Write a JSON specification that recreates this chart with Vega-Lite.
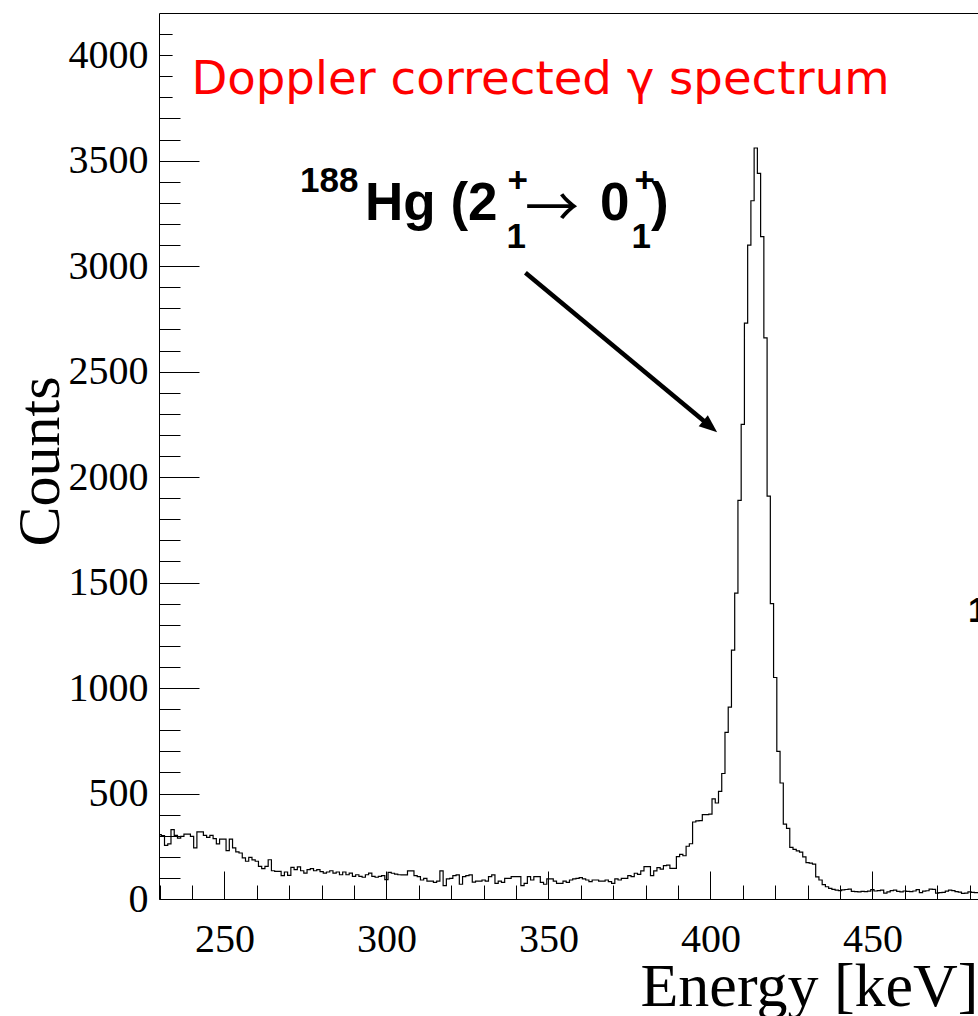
{
  "$schema": "https://vega.github.io/schema/vega-lite/v6.json",
  "width": 819,
  "height": 886,
  "autosize": {"type": "none"},
  "padding": {"left": 159, "top": 13, "right": 0, "bottom": 117},
  "background": "white",
  "config": {
    "view": {"stroke": null},
    "axis": {
      "grid": false,
      "domainColor": "black",
      "domainWidth": 1,
      "tickColor": "black",
      "tickWidth": 1,
      "labelColor": "black",
      "titleColor": "black",
      "labelFont": "Liberation Serif",
      "titleFont": "Liberation Serif",
      "titleFontWeight": "normal",
      "labelOverlap": false,
      "labelFlush": false
    }
  },
  "datasets": {
    "hist": [
      {"e":229,"c":305},{"e":230,"c":305},{"e":231,"c":300},{"e":232,"c":254},{"e":233,"c":261},{"e":234,"c":329},{"e":235,"c":302},{"e":236,"c":289},{"e":237,"c":297},{"e":238,"c":308},{"e":239,"c":308},
      {"e":240,"c":297},{"e":241,"c":242},{"e":242,"c":318},{"e":243,"c":318},{"e":244,"c":302},{"e":245,"c":292},{"e":246,"c":302},{"e":247,"c":286},{"e":248,"c":261},{"e":249,"c":284},
      {"e":250,"c":284},{"e":251,"c":229},{"e":252,"c":284},{"e":253,"c":242},{"e":254,"c":223},{"e":255,"c":218},{"e":256,"c":195},{"e":257,"c":179},{"e":258,"c":197},{"e":259,"c":185},
      {"e":260,"c":179},{"e":261,"c":155},{"e":262,"c":144},{"e":263,"c":155},{"e":264,"c":186},{"e":265,"c":134},{"e":266,"c":131},{"e":267,"c":131},{"e":268,"c":111},{"e":269,"c":128},
      {"e":270,"c":112},{"e":271,"c":150},{"e":272,"c":139},{"e":273,"c":152},{"e":274,"c":134},{"e":275,"c":123},{"e":276,"c":139},{"e":277,"c":144},{"e":278,"c":134},{"e":279,"c":139},
      {"e":280,"c":130},{"e":281,"c":123},{"e":282,"c":128},{"e":283,"c":134},{"e":284,"c":123},{"e":285,"c":128},{"e":286,"c":115},{"e":287,"c":128},{"e":288,"c":115},{"e":289,"c":123},
      {"e":290,"c":107},{"e":291,"c":115},{"e":292,"c":107},{"e":293,"c":103},{"e":294,"c":115},{"e":295,"c":123},{"e":296,"c":107},{"e":297,"c":103},{"e":298,"c":107},{"e":299,"c":111},
      {"e":300,"c":92},{"e":301,"c":126},{"e":302,"c":122},{"e":303,"c":118},{"e":304,"c":115},{"e":305,"c":114},{"e":306,"c":114},{"e":307,"c":133},{"e":308,"c":133},{"e":309,"c":111},
      {"e":310,"c":106},{"e":311,"c":90},{"e":312,"c":98},{"e":313,"c":85},{"e":314,"c":85},{"e":315,"c":79},{"e":316,"c":85},{"e":317,"c":133},{"e":318,"c":63},{"e":319,"c":95},
      {"e":320,"c":98},{"e":321,"c":111},{"e":322,"c":114},{"e":323,"c":70},{"e":324,"c":106},{"e":325,"c":111},{"e":326,"c":114},{"e":327,"c":80},{"e":328,"c":85},{"e":329,"c":85},
      {"e":330,"c":90},{"e":331,"c":85},{"e":332,"c":106},{"e":333,"c":114},{"e":334,"c":74},{"e":335,"c":85},{"e":336,"c":79},{"e":337,"c":98},{"e":338,"c":98},{"e":339,"c":106},
      {"e":340,"c":106},{"e":341,"c":106},{"e":342,"c":63},{"e":343,"c":74},{"e":344,"c":106},{"e":345,"c":90},{"e":346,"c":106},{"e":347,"c":106},{"e":348,"c":79},{"e":349,"c":70},
      {"e":350,"c":95},{"e":351,"c":95},{"e":352,"c":85},{"e":353,"c":74},{"e":354,"c":74},{"e":355,"c":85},{"e":356,"c":79},{"e":357,"c":90},{"e":358,"c":95},{"e":359,"c":98},
      {"e":360,"c":101},{"e":361,"c":95},{"e":362,"c":90},{"e":363,"c":82},{"e":364,"c":90},{"e":365,"c":90},{"e":366,"c":85},{"e":367,"c":85},{"e":368,"c":90},{"e":369,"c":82},
      {"e":370,"c":74},{"e":371,"c":95},{"e":372,"c":90},{"e":373,"c":98},{"e":374,"c":98},{"e":375,"c":111},{"e":376,"c":106},{"e":377,"c":122},{"e":378,"c":117},{"e":379,"c":133},
      {"e":380,"c":153},{"e":381,"c":153},{"e":382,"c":111},{"e":383,"c":133},{"e":384,"c":149},{"e":385,"c":142},{"e":386,"c":158},{"e":387,"c":161},{"e":388,"c":145},{"e":389,"c":145},
      {"e":390,"c":201},{"e":391,"c":212},{"e":392,"c":205},{"e":393,"c":250},{"e":394,"c":262},{"e":395,"c":365},{"e":396,"c":370},{"e":397,"c":372},{"e":398,"c":400},{"e":399,"c":400},
      {"e":400,"c":402},{"e":401,"c":475},{"e":402,"c":455},{"e":403,"c":510},{"e":404,"c":595},{"e":405,"c":790},{"e":406,"c":910},{"e":407,"c":1180},{"e":408,"c":1450},{"e":409,"c":1890},
      {"e":410,"c":2250},{"e":411,"c":2730},{"e":412,"c":3100},{"e":413,"c":3310},{"e":414,"c":3560},{"e":415,"c":3440},{"e":416,"c":3140},{"e":417,"c":2660},{"e":418,"c":1910},{"e":419,"c":1400},
      {"e":420,"c":1050},{"e":421,"c":700},{"e":422,"c":550},{"e":423,"c":355},{"e":424,"c":335},{"e":425,"c":245},{"e":426,"c":235},{"e":427,"c":228},{"e":428,"c":222},{"e":429,"c":200},
      {"e":430,"c":172},{"e":431,"c":170},{"e":432,"c":165},{"e":433,"c":105},{"e":434,"c":90},{"e":435,"c":68},{"e":436,"c":58},{"e":437,"c":50},{"e":438,"c":46},{"e":439,"c":42},
      {"e":440,"c":40},{"e":441,"c":43},{"e":442,"c":45},{"e":443,"c":47},{"e":444,"c":36},{"e":445,"c":35},{"e":446,"c":34},{"e":447,"c":36},{"e":448,"c":35},{"e":449,"c":37},
      {"e":450,"c":44},{"e":451,"c":38},{"e":452,"c":40},{"e":453,"c":42},{"e":454,"c":28},{"e":455,"c":34},{"e":456,"c":40},{"e":457,"c":42},{"e":458,"c":36},{"e":459,"c":34},
      {"e":460,"c":38},{"e":461,"c":36},{"e":462,"c":35},{"e":463,"c":38},{"e":464,"c":44},{"e":465,"c":30},{"e":466,"c":37},{"e":467,"c":39},{"e":468,"c":47},{"e":469,"c":46},
      {"e":470,"c":28},{"e":471,"c":30},{"e":472,"c":31},{"e":473,"c":37},{"e":474,"c":42},{"e":475,"c":40},{"e":476,"c":35},{"e":477,"c":33},{"e":478,"c":27},{"e":479,"c":28},
      {"e":480,"c":34},{"e":481,"c":31},{"e":482,"c":30},{"e":483,"c":30},{"e":484,"c":30}
    ],
    "bigbold": [
      {"t": "Hg (2", "e": 293.39, "c": 3219},
      {"t": "0", "e": 365.92, "c": 3219},
      {"t": ")", "e": 381.67, "c": 3219}
    ],
    "smallbold": [
      {"t": "188", "e": 273.32, "c": 3351},
      {"t": "+", "e": 337.37, "c": 3351},
      {"t": "+", "e": 376.57, "c": 3351},
      {"t": "1", "e": 337.06, "c": 3086},
      {"t": "1", "e": 375.64, "c": 3086},
      {"t": "1", "e": 479.5, "c": 1313}
    ]
  },
  "layer": [
    {
      "data": {"values": [{}]},
      "mark": {"type": "rect", "fill": "white", "stroke": null},
      "encoding": {
        "x": {"datum": 234, "type": "quantitative", "scale": {"domain": [229.8, 482.6], "nice": false, "zero": false},
              "axis": {"orient": "bottom", "values": [230,240,260,270,280,290,310,320,330,340,360,370,380,390,410,420,430,440,460,470,480], "tickSize": -14, "labels": false, "domain": false, "title": null}},
        "x2": {"datum": 470},
        "y": {"datum": 3740, "type": "quantitative", "scale": {"domain": [0, 4200], "nice": false, "zero": false},
              "axis": {"orient": "left", "values": [100,200,300,400,600,700,800,900,1100,1200,1300,1400,1600,1700,1800,1900,2100,2200,2300,2400,2600,2700,2800,2900,3100,3200,3300,3400,3600,3700,3800,3900,4100], "tickSize": -21, "labels": false, "domain": false, "title": null}},
        "y2": {"datum": 4150}
      }
    },
    {
      "data": {"values": [{}]},
      "mark": {"type": "rule", "color": "black", "strokeWidth": 4.5, "strokeCap": "butt"},
      "encoding": {
        "x": {"datum": 342.9, "type": "quantitative", "scale": {"domain": [229.8, 482.6], "nice": false, "zero": false},
              "axis": {"orient": "bottom", "values": [250,300,350,400,450], "tickSize": -28, "labels": false, "domain": false, "title": null}},
        "x2": {"datum": 398.0},
        "y": {"datum": 2969, "type": "quantitative", "scale": {"domain": [0, 4200], "nice": false, "zero": false},
              "axis": {"orient": "left", "values": [0,500,1000,1500,2000,2500,3000,3500,4000], "tickSize": -40, "labels": false, "domain": false, "title": null}},
        "y2": {"datum": 2266}
      }
    },
    {
      "data": {"values": [{}]},
      "mark": {"type": "point", "shape": "M0,-1L0.8,1L-0.8,1Z", "size": 324, "angle": 129.4, "filled": true, "color": "black", "opacity": 1},
      "encoding": {
        "x": {"datum": 399.94, "type": "quantitative", "scale": {"domain": [229.8, 482.6], "nice": false, "zero": false},
              "axis": {"orient": "top", "ticks": false, "labels": false, "domain": true, "title": null}},
        "y": {"datum": 2240, "type": "quantitative", "scale": {"domain": [0, 4200], "nice": false, "zero": false}, "axis": null}
      }
    },
    {
      "data": {"name": "hist"},
      "mark": {"type": "line", "interpolate": "step", "color": "black", "strokeWidth": 1.2, "clip": true},
      "encoding": {
        "x": {"field": "e", "type": "quantitative", "scale": {"domain": [229.8, 482.6], "nice": false, "zero": false},
              "axis": {"orient": "bottom", "values": [250,300,350,400,450], "format": "d", "ticks": false, "domain": true, "labelFontSize": 40, "labelPadding": 20,
                       "title": "Energy [keV]", "titleFontSize": 62, "titleAlign": "right", "titleAnchor": "end", "titleBaseline": "alphabetic", "titleX": 819, "titleY": 106}},
        "y": {"field": "c", "type": "quantitative", "scale": {"domain": [0, 4200], "nice": false, "zero": false},
              "axis": {"orient": "left", "values": [0,500,1000,1500,2000,2500,3000,3500,4000], "format": "d", "ticks": false, "domain": true, "labelFontSize": 40, "labelPadding": 11,
                       "title": "Counts", "titleFontSize": 60, "titleAngle": -90, "titleAlign": "center", "titleBaseline": "alphabetic", "titleX": -101, "titleY": 448}}
      }
    },
    {
      "data": {"values": [{}]},
      "mark": {"type": "text", "text": "Doppler corrected γ spectrum", "font": "DejaVu Sans", "fontSize": 46.6, "color": "#ff0000", "align": "left", "baseline": "alphabetic"},
      "encoding": {
        "x": {"datum": 239.8, "type": "quantitative", "scale": {"domain": [229.8, 482.6], "nice": false, "zero": false}, "axis": null},
        "y": {"datum": 3816, "type": "quantitative", "scale": {"domain": [0, 4200], "nice": false, "zero": false}, "axis": null}
      }
    },
    {
      "data": {"name": "bigbold"},
      "mark": {"type": "text", "font": "Liberation Sans", "fontSize": 53, "fontWeight": "bold", "color": "black", "align": "left", "baseline": "alphabetic"},
      "encoding": {
        "text": {"field": "t"},
        "x": {"field": "e", "type": "quantitative", "scale": {"domain": [229.8, 482.6], "nice": false, "zero": false}, "axis": null},
        "y": {"field": "c", "type": "quantitative", "scale": {"domain": [0, 4200], "nice": false, "zero": false}, "axis": null}
      }
    },
    {
      "data": {"name": "smallbold"},
      "mark": {"type": "text", "font": "Liberation Sans", "fontSize": 35, "fontWeight": "bold", "color": "black", "align": "left", "baseline": "alphabetic"},
      "encoding": {
        "text": {"field": "t"},
        "x": {"field": "e", "type": "quantitative", "scale": {"domain": [229.8, 482.6], "nice": false, "zero": false}, "axis": null},
        "y": {"field": "c", "type": "quantitative", "scale": {"domain": [0, 4200], "nice": false, "zero": false}, "axis": null}
      }
    },
    {
      "data": {"values": [{}]},
      "mark": {"type": "text", "text": "→", "font": "Noto Sans CJK SC", "fontSize": 54, "color": "black", "align": "left", "baseline": "alphabetic"},
      "encoding": {
        "x": {"datum": 342.77, "type": "quantitative", "scale": {"domain": [229.8, 482.6], "nice": false, "zero": false}, "axis": null},
        "y": {"datum": 3186, "type": "quantitative", "scale": {"domain": [0, 4200], "nice": false, "zero": false}, "axis": null}
      }
    }
  ],
  "resolve": {"axis": {"x": "independent", "y": "independent"}}
}
